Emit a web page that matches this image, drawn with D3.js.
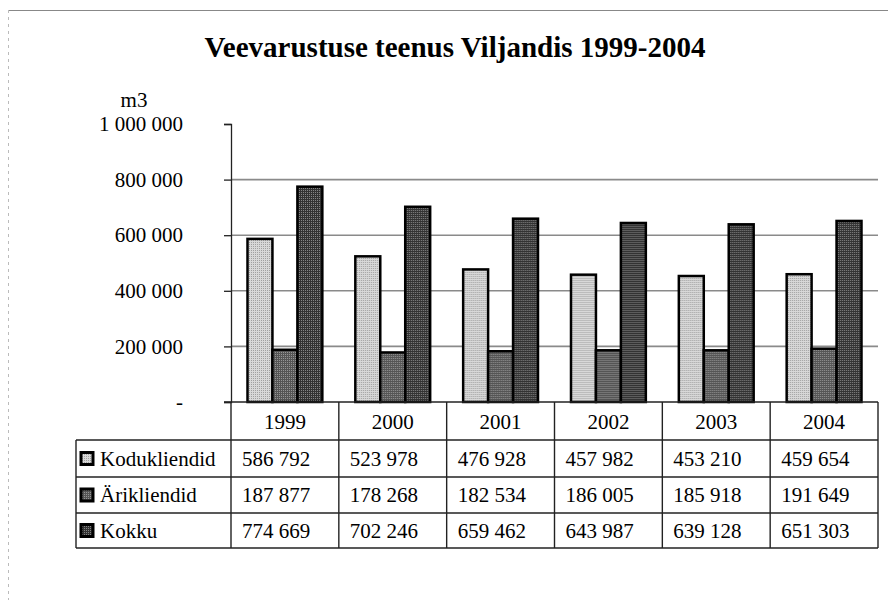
<!DOCTYPE html>
<html>
<head>
<meta charset="utf-8">
<script src="https://cdn.jsdelivr.net/npm/d3@7"></script>
<style>
  html, body { margin: 0; padding: 0; background: #fff; }
  svg { display: block; font-family: "Liberation Serif", "Times New Roman", serif; }
</style>
</head>
<body>
<svg id="chart" width="888" height="616"></svg>
<script>
const title = "Veevarustuse teenus Viljandis 1999-2004";
const yAxisTitle = "m3";
const years = ["1999", "2000", "2001", "2002", "2003", "2004"];
const seriesNames = ["Kodukliendid", "Ärikliendid", "Kokku"];
const kodukliendid = [586792, 523978, 476928, 457982, 453210, 459654];
const arikliendid = [187877, 178268, 182534, 186005, 185918, 191649];
const kokku = [774669, 702246, 659462, 643987, 639128, 651303];
const tickValues = [0, 200000, 400000, 600000, 800000, 1000000];
const tickLabels = ["-", "200 000", "400 000", "600 000", "800 000", "1 000 000"];
const tableLabels = [
  ["586 792", "523 978", "476 928", "457 982", "453 210", "459 654"],
  ["187 877", "178 268", "182 534", "186 005", "185 918", "191 649"],
  ["774 669", "702 246", "659 462", "643 987", "639 128", "651 303"]
];

const seriesValues = [kodukliendid, arikliendid, kokku];

const svg = d3.select("#chart");
const defs = svg.append("defs");

function dotPattern(id, bg, dot, size) {
  const p = defs.append("pattern").attr("id", id)
    .attr("patternUnits", "userSpaceOnUse").attr("width", size).attr("height", size);
  p.append("rect").attr("width", size).attr("height", size).attr("fill", bg);
  p.append("rect").attr("x", 0).attr("y", 0).attr("width", 1).attr("height", 1).attr("fill", dot);
  return "url(#" + id + ")";
}
const fills = [
  dotPattern("pKodu", "#d8d8d8", "#a0a0a0", 2),
  dotPattern("pAri", "#555555", "#959595", 2),
  dotPattern("pKokku", "#333333", "#858585", 2)
];

const plotLeft = 231, plotRight = 878, plotTop = 124, plotBottom = 402;
const rowH = [38, 37, 36, 35];
const fs = 21;

const x0 = d3.scaleBand().domain(years).range([plotLeft, plotRight]);
const bw = x0.bandwidth();
const x1 = d3.scaleBand().domain(seriesNames).range([bw * 0.153, bw * 0.847]);
const y = d3.scaleLinear().domain([0, 1000000]).range([plotBottom, plotTop]);

// outer frame (partial, as in scan)
svg.append("line").attr("x1", 8).attr("x2", 888).attr("y1", 10.5).attr("y2", 10.5)
  .attr("stroke", "#888").attr("stroke-width", 1.2);
svg.append("line").attr("x1", 8.5).attr("x2", 8.5).attr("y1", 10).attr("y2", 600)
  .attr("stroke", "#bbb").attr("stroke-width", 1).attr("stroke-dasharray", "3,4");

// title
svg.append("text").attr("x", 455).attr("y", 57).attr("text-anchor", "middle")
  .attr("font-size", 29).attr("font-weight", "bold").text(title);

// y-axis title
svg.append("text").attr("x", 134).attr("y", 107).attr("text-anchor", "middle")
  .attr("font-size", fs).text(yAxisTitle);

// gridlines
svg.append("g").selectAll("line")
  .data(tickValues.filter(v => v > 0 && v < 1000000))
  .join("line")
  .attr("x1", plotLeft).attr("x2", plotRight)
  .attr("y1", d => y(d)).attr("y2", d => y(d))
  .attr("stroke", "#8a8a8a").attr("stroke-width", 1.6);

// y axis
const yAxis = d3.axisLeft(y).tickValues(tickValues)
  .tickFormat((d, i) => tickLabels[i]).tickSize(7).tickPadding(41);
const gy = svg.append("g").attr("transform", `translate(${plotLeft},0)`).call(yAxis);
gy.select(".domain").attr("stroke", "#222").attr("stroke-width", 1.3);
gy.selectAll(".tick line").attr("stroke", "#222").attr("stroke-width", 1.3);
gy.selectAll(".tick text").attr("font-size", fs).attr("fill", "#000")
  .attr("font-family", "Liberation Serif, serif");

// bars
const groups = svg.append("g").selectAll("g")
  .data(years).join("g")
  .attr("transform", d => `translate(${x0(d)},0)`);
groups.selectAll("rect")
  .data((d, i) => seriesNames.map((s, k) => ({ s, k, v: seriesValues[k][i] })))
  .join("rect")
  .attr("x", d => x1(d.s))
  .attr("width", x1.bandwidth())
  .attr("y", d => y(d.v))
  .attr("height", d => y(0) - y(d.v))
  .attr("fill", d => fills[d.k])
  .attr("stroke", "#000").attr("stroke-width", 2.5);

// baseline
svg.append("line").attr("x1", plotLeft - 7).attr("x2", plotRight)
  .attr("y1", plotBottom).attr("y2", plotBottom)
  .attr("stroke", "#222").attr("stroke-width", 1.3);

// data table
const tableLeft = 76;
const rowY = [plotBottom];
rowH.forEach(h => rowY.push(rowY[rowY.length - 1] + h));
const tbl = svg.append("g").attr("stroke", "#222").attr("stroke-width", 1.4);
rowY.slice(1).forEach(yy => {
  tbl.append("line").attr("x1", tableLeft).attr("x2", plotRight).attr("y1", yy).attr("y2", yy);
});
tbl.append("line").attr("x1", tableLeft).attr("x2", tableLeft).attr("y1", rowY[1]).attr("y2", rowY[4]);
tbl.append("line").attr("x1", plotLeft).attr("x2", plotLeft).attr("y1", rowY[0]).attr("y2", rowY[4]);
years.forEach(yr => {
  const xx = x0(yr) + bw;
  tbl.append("line").attr("x1", xx).attr("x2", xx).attr("y1", rowY[0]).attr("y2", rowY[4]);
});

// header years
svg.append("g").selectAll("text").data(years).join("text")
  .attr("x", d => x0(d) + bw / 2).attr("y", rowY[0] + 27)
  .attr("text-anchor", "middle").attr("font-size", fs).text(d => d);

// row labels with keys
seriesNames.forEach((s, k) => {
  const cy = (rowY[k + 1] + rowY[k + 2]) / 2;
  svg.append("rect").attr("x", 81).attr("y", cy - 6).attr("width", 12).attr("height", 12)
    .attr("fill", fills[k]).attr("stroke", "#000").attr("stroke-width", 3);
  svg.append("text").attr("x", 100).attr("y", cy + 7).attr("font-size", fs).text(s);
  years.forEach((yr, i) => {
    svg.append("text").attr("x", x0(yr) + 11).attr("y", cy + 7)
      .attr("font-size", fs).text(tableLabels[k][i]);
  });
});
</script>
</body>
</html>
